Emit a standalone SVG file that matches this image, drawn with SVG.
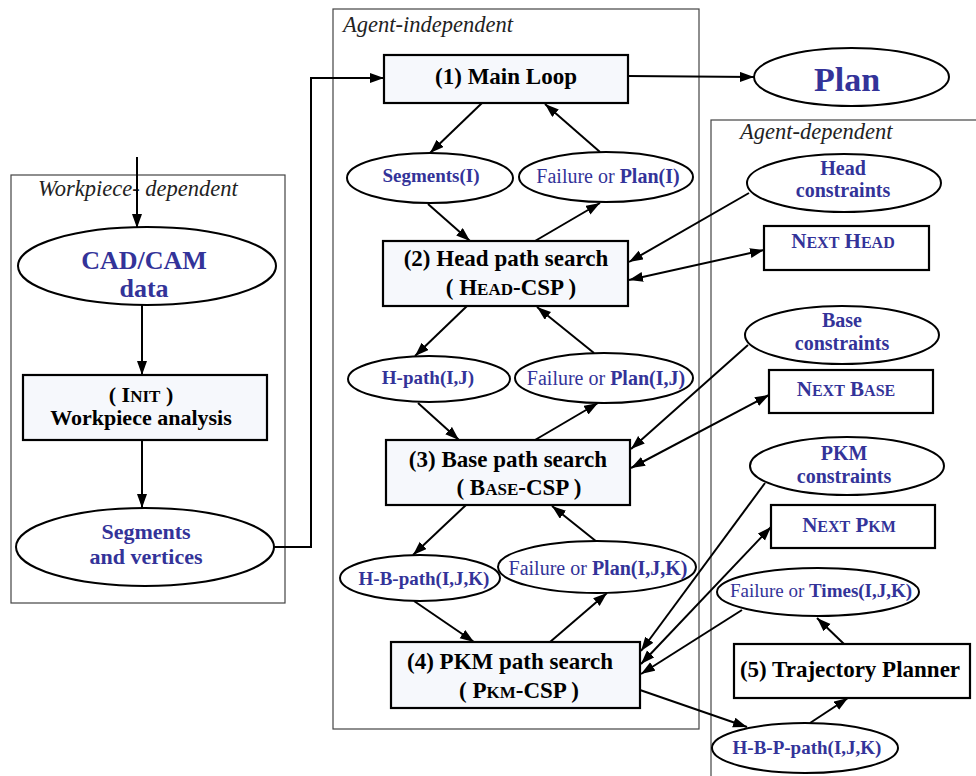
<svg xmlns="http://www.w3.org/2000/svg" width="976" height="776" viewBox="0 0 976 776">
<defs>
<marker id="ah" markerUnits="userSpaceOnUse" markerWidth="15" markerHeight="11" refX="14" refY="5" orient="auto-start-reverse">
<path d="M0,0 L14,5 L0,10 z" fill="#000"/>
</marker>
<style>
.frame{fill:none;stroke:#444;stroke-width:1.2}
.flabel{font-family:"Liberation Serif",serif;font-style:italic;font-size:22.5px;fill:#222}
.box{fill:#f6f8fc;stroke:#000;stroke-width:2.2}
.ell{fill:#fff;stroke:#000;stroke-width:2}
.bt{font-family:"Liberation Serif",serif;font-weight:bold;font-size:23px;fill:#000;text-anchor:middle}
.sc{font-size:17px}
.et{font-family:"Liberation Serif",serif;font-weight:bold;font-size:19px;fill:#333399;text-anchor:middle}
.ft{font-family:"Liberation Serif",serif;font-size:20px;fill:#333399;text-anchor:middle}
.ft tspan.b{font-weight:bold}
.big{font-size:26px}
.lab{font-size:22px}
.nx{font-size:21px}
.nxs{font-size:16px}
.con{fill:none;stroke:#000;stroke-width:2;marker-end:url(#ah)}
.dbl{marker-start:url(#ah)}
</style>
</defs>
<rect width="976" height="776" fill="#fff"/>

<g id="frames">
<rect class="frame" x="11" y="175" width="274" height="428"/>
<text class="flabel" x="38" y="196">Workpiece- dependent</text>
<rect class="frame" x="333" y="9" width="366" height="720"/>
<text class="flabel" x="343" y="32">Agent-independent</text>
<rect class="frame" x="711" y="120" width="280" height="670"/>
<text class="flabel" x="740" y="139">Agent-dependent</text>
</g>

<g id="connectors">
<line class="con" x1="137" y1="157" x2="137" y2="228"/>
<line class="con" x1="142" y1="305" x2="142" y2="375"/>
<line class="con" x1="142" y1="440" x2="142" y2="508"/>
<polyline class="con" points="274,547 311,547 311,78 384,78"/>
<line class="con" x1="628" y1="76" x2="754" y2="77"/>
<line class="con" x1="482" y1="103" x2="430" y2="153"/>
<line class="con" x1="600" y1="152" x2="545" y2="104"/>
<line class="con" x1="428" y1="204" x2="470" y2="241"/>
<line class="con" x1="535" y1="241" x2="600" y2="203"/>
<line class="con" x1="467" y1="306" x2="415" y2="356"/>
<line class="con" x1="594" y1="353" x2="537" y2="307"/>
<line class="con" x1="418" y1="403" x2="459" y2="440"/>
<line class="con" x1="535" y1="440" x2="598" y2="403"/>
<line class="con" x1="466" y1="505" x2="413" y2="555"/>
<line class="con" x1="597" y1="542" x2="552" y2="506"/>
<line class="con" x1="414" y1="601" x2="474" y2="642"/>
<line class="con" x1="550" y1="642" x2="607" y2="593"/>
<line class="con" x1="749" y1="193" x2="629" y2="262"/>
<line class="con dbl" x1="629" y1="280" x2="764" y2="250"/>
<line class="con" x1="748" y1="345" x2="631" y2="449"/>
<line class="con dbl" x1="631" y1="468" x2="769" y2="395"/>
<line class="con" x1="765" y1="483" x2="641" y2="651"/>
<line class="con dbl" x1="641" y1="664" x2="771" y2="527"/>
<line class="con" x1="742" y1="610" x2="641" y2="674"/>
<line class="con" x1="640" y1="690" x2="747" y2="727"/>
<line class="con" x1="810" y1="723" x2="848" y2="698"/>
<line class="con" x1="844" y1="644" x2="817" y2="618"/>
</g>

<g id="cadcam">
<ellipse class="ell" cx="147" cy="266" rx="129" ry="39"/>
<text class="et big" x="144" y="269">CAD/CAM</text>
<text class="et big" x="144" y="297">data</text>
</g>
<g id="init">
<rect class="box" x="23" y="375" width="244" height="65"/>
<text class="bt lab" x="141" y="402">( I<tspan class="sc">NIT</tspan> )</text>
<text class="bt lab" x="141" y="425">Workpiece analysis</text>
</g>
<g id="segvert">
<ellipse class="ell" cx="145" cy="547" rx="129" ry="39"/>
<text class="et" style="font-size:22px" x="146" y="539">Segments</text>
<text class="et" style="font-size:22px" x="146" y="564">and vertices</text>
</g>

<g id="mainloop">
<rect class="box" x="384" y="55" width="244" height="48"/>
<text class="bt" x="506" y="84">(1) Main Loop</text>
</g>
<g id="plan">
<ellipse class="ell" cx="851.5" cy="77" rx="97.5" ry="29"/>
<text class="et" style="font-size:34px" x="847" y="91">Plan</text>
</g>
<g id="segI">
<ellipse class="ell" cx="430" cy="178" rx="83" ry="25"/>
<text class="et" x="431" y="182">Segments(I)</text>
</g>
<g id="failI">
<ellipse class="ell" cx="606" cy="177" rx="87" ry="25"/>
<text class="ft" x="608" y="183">Failure or <tspan class="b">Plan(I)</tspan></text>
</g>
<g id="head">
<rect class="box" x="383" y="241" width="245" height="65"/>
<text class="bt" x="506" y="266">(2) Head path search</text>
<text class="bt" x="511" y="295">( H<tspan class="sc">EAD</tspan>-CSP )</text>
</g>
<g id="hpath">
<ellipse class="ell" cx="429" cy="379" rx="81" ry="23"/>
<text class="et" x="428" y="384">H-path(I,J)</text>
</g>
<g id="failIJ">
<ellipse class="ell" cx="604" cy="378" rx="89" ry="25"/>
<text class="ft" x="606" y="385">Failure or <tspan class="b">Plan(I,J)</tspan></text>
</g>
<g id="base">
<rect class="box" x="386" y="440" width="244" height="65"/>
<text class="bt" x="508" y="467">(3) Base path search</text>
<text class="bt" x="519" y="495">( B<tspan class="sc">ASE</tspan>-CSP )</text>
</g>
<g id="hbpath">
<ellipse class="ell" cx="420" cy="578" rx="80" ry="23"/>
<text class="et" x="424" y="585">H-B-path(I,J,K)</text>
</g>
<g id="failIJK">
<ellipse class="ell" cx="597" cy="567" rx="99" ry="26"/>
<text class="ft" x="598" y="575">Failure or <tspan class="b">Plan(I,J,K)</tspan></text>
</g>
<g id="pkm">
<rect class="box" x="391" y="642" width="249" height="66"/>
<text class="bt" x="510" y="669">(4) PKM path search</text>
<text class="bt" x="519" y="698">( P<tspan class="sc">KM</tspan>-CSP )</text>
</g>

<g id="headcon">
<ellipse class="ell" cx="844" cy="183" rx="97" ry="29"/>
<text class="et" style="font-size:20px" x="843" y="175">Head</text>
<text class="et" style="font-size:20px" x="843" y="197">constraints</text>
</g>
<g id="nexthead">
<rect class="box" x="764" y="226" width="165" height="44" style="fill:#fff"/>
<text class="et nx" x="843" y="248">N<tspan class="nxs">EXT</tspan> H<tspan class="nxs">EAD</tspan></text>
</g>
<g id="basecon">
<ellipse class="ell" cx="842" cy="335" rx="97" ry="29"/>
<text class="et" style="font-size:20px" x="842" y="327">Base</text>
<text class="et" style="font-size:20px" x="842" y="350">constraints</text>
</g>
<g id="nextbase">
<rect class="box" x="769" y="370" width="164" height="43" style="fill:#fff"/>
<text class="et nx" x="846" y="396">N<tspan class="nxs">EXT</tspan> B<tspan class="nxs">ASE</tspan></text>
</g>
<g id="pkmcon">
<ellipse class="ell" cx="847" cy="466" rx="97" ry="29"/>
<text class="et" style="font-size:20px" x="844" y="460">PKM</text>
<text class="et" style="font-size:20px" x="844" y="483">constraints</text>
</g>
<g id="nextpkm">
<rect class="box" x="771" y="505" width="164" height="43" style="fill:#fff"/>
<text class="et nx" x="849" y="532">N<tspan class="nxs">EXT</tspan> P<tspan class="nxs">KM</tspan></text>
</g>
<g id="failtimes">
<ellipse class="ell" cx="818" cy="592" rx="101" ry="24"/>
<text class="ft" style="font-size:19px" x="821" y="597">Failure or <tspan class="b">Times(I,J,K)</tspan></text>
</g>
<g id="traj">
<rect class="box" x="734" y="644" width="236" height="54" style="fill:#fff"/>
<text class="bt" x="850" y="677">(5) Trajectory Planner</text>
</g>
<g id="hbppath">
<ellipse class="ell" cx="805" cy="748" rx="93" ry="25"/>
<text class="et" x="807" y="754">H-B-P-path(I,J,K)</text>
</g>
</svg>
